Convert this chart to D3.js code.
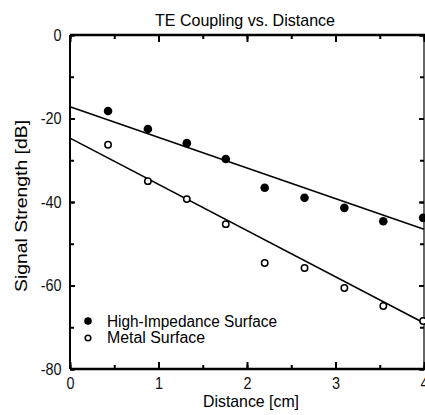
<!DOCTYPE html>
<html>
<head>
<meta charset="utf-8">
<script src="https://cdn.jsdelivr.net/npm/d3@7"></script>
<style>
  body { margin: 0; background: #fff; }
  svg { display: block; font-family: "Liberation Sans", Arial, sans-serif; }
  .tick text { font-size: 17px; fill: #111; }
</style>
</head>
<body>
<div id="chart"></div>
<script>
// measured points
var distance = [0.43, 0.88, 1.32, 1.76, 2.2, 2.65, 3.1, 3.54, 3.99];
var highImpedance = [-18.2, -22.5, -25.9, -29.7, -36.6, -39.0, -41.4, -44.6, -43.8];
var metalSurface = [-26.3, -35.0, -39.3, -45.3, -54.6, -55.8, -60.6, -64.9, -68.5];

// fitted lines (end points at 0 and 4 cm)
var fitX = [0, 4];
var highFit = [-17.2, -46.5];
var metalFit = [-24.7, -69.0];

var xTicks = [0, 1, 2, 3, 4];
var yTicks = [0, -20, -40, -60, -80];
var seriesNames = ["High-Impedance Surface", "Metal Surface"];

var margin = { top: 35, right: 1, bottom: 46, left: 70 };
var W = 425, H = 415;
var width = W - margin.left - margin.right,
    height = H - margin.top - margin.bottom;

var svg = d3.select("#chart").append("svg")
    .attr("width", W)
    .attr("height", H);

var g = svg.append("g")
    .attr("transform", "translate(" + margin.left + "," + margin.top + ")");

var x = d3.scaleLinear().domain([0, 4]).range([0, width]);
var y = d3.scaleLinear().domain([-80, 0]).range([height, 0]);

var minorX = d3.range(0, 4.01, 0.5);
var minorY = d3.range(-80, 0.01, 10);

function styleAxis(sel, strokeW) {
    sel.select(".domain").remove();
    sel.selectAll(".tick line").attr("stroke", "#000").attr("stroke-width", 2);
}

// minor ticks (inside)
g.append("g").call(d3.axisBottom(x).tickValues(minorX).tickSize(-4).tickFormat(""))
    .attr("transform", "translate(0," + height + ")").call(styleAxis);
g.append("g").call(d3.axisTop(x).tickValues(minorX).tickSize(-4).tickFormat(""))
    .call(styleAxis);
g.append("g").call(d3.axisLeft(y).tickValues(minorY).tickSize(-4).tickFormat(""))
    .call(styleAxis);
g.append("g").call(d3.axisRight(y).tickValues(minorY).tickSize(-4).tickFormat(""))
    .attr("transform", "translate(" + width + ",0)").call(styleAxis);

// major ticks + labels
var xAxis = g.append("g")
    .attr("transform", "translate(0," + height + ")")
    .call(d3.axisBottom(x).tickValues(xTicks).tickSizeInner(-7).tickSizeOuter(0).tickPadding(6).tickFormat(d3.format("d")));
xAxis.call(styleAxis);
xAxis.selectAll(".tick text").attr("transform", "scale(0.85,1)").attr("dy", "0.85em");

g.append("g").call(d3.axisTop(x).tickValues(xTicks).tickSize(-7).tickFormat("")).call(styleAxis);

var yAxis = g.append("g")
    .call(d3.axisLeft(y).tickValues(yTicks).tickSizeInner(-5).tickSizeOuter(0).tickPadding(9)
        .tickFormat(function(d) { return d === 0 ? "0" : "-" + Math.abs(d); }));
yAxis.call(styleAxis);
yAxis.selectAll(".tick text").attr("transform", "scale(0.85,1)").attr("dx", "-1px");

g.append("g").attr("transform", "translate(" + width + ",0)")
    .call(d3.axisRight(y).tickValues(yTicks).tickSize(-5).tickFormat("")).call(styleAxis);

// frame
g.append("line").attr("x1", 0).attr("x2", width + 1).attr("y1", 0).attr("y2", 0)
    .attr("stroke", "#000").attr("stroke-width", 2.5);
g.append("line").attr("x1", 0).attr("x2", width + 1).attr("y1", height).attr("y2", height)
    .attr("stroke", "#000").attr("stroke-width", 2.5);
g.append("line").attr("x1", 0).attr("x2", 0).attr("y1", 0).attr("y2", height)
    .attr("stroke", "#000").attr("stroke-width", 2);
g.append("line").attr("x1", width).attr("x2", width).attr("y1", 0).attr("y2", height)
    .attr("stroke", "#000").attr("stroke-width", 1.2);

// fit lines
var line = d3.line().x(function(d) { return x(d[0]); }).y(function(d) { return y(d[1]); });
[highFit, metalFit].forEach(function(f) {
    g.append("path")
        .datum(d3.zip(fitX, f))
        .attr("d", line)
        .attr("fill", "none")
        .attr("stroke", "#000")
        .attr("stroke-width", 1.6);
});

// points
g.selectAll(".high-pt")
    .data(d3.zip(distance, highImpedance))
    .enter().append("circle")
    .attr("class", "high-pt")
    .attr("cx", function(d) { return x(d[0]); })
    .attr("cy", function(d) { return y(d[1]); })
    .attr("r", 4.3)
    .attr("fill", "#000");

g.selectAll(".metal-pt")
    .data(d3.zip(distance, metalSurface))
    .enter().append("circle")
    .attr("class", "metal-pt")
    .attr("cx", function(d) { return x(d[0]); })
    .attr("cy", function(d) { return y(d[1]); })
    .attr("r", 3.2)
    .attr("fill", "#fff")
    .attr("stroke", "#000")
    .attr("stroke-width", 1.5);

// legend
var legend = svg.append("g").attr("transform", "translate(88,321)");
legend.append("circle").attr("cx", 0).attr("cy", 0).attr("r", 3.8).attr("fill", "#000");
legend.append("circle").attr("cx", 0).attr("cy", 17).attr("r", 2.8)
    .attr("fill", "#fff").attr("stroke", "#000").attr("stroke-width", 1.5);
legend.append("text").attr("x", 19).attr("y", 6).attr("font-size", 16)
    .attr("textLength", 170).attr("lengthAdjust", "spacingAndGlyphs")
    .text(seriesNames[0]);
legend.append("text").attr("x", 19).attr("y", 22).attr("font-size", 16)
    .attr("textLength", 98).attr("lengthAdjust", "spacingAndGlyphs")
    .text(seriesNames[1]);

// title and axis labels
svg.append("text").attr("x", 245).attr("y", 26).attr("text-anchor", "middle")
    .attr("font-size", 17).attr("textLength", 180).attr("lengthAdjust", "spacingAndGlyphs")
    .text("TE Coupling vs. Distance");

svg.append("text").attr("x", 251).attr("y", 407).attr("text-anchor", "middle")
    .attr("font-size", 17).attr("textLength", 96).attr("lengthAdjust", "spacingAndGlyphs")
    .text("Distance [cm]");

svg.append("text")
    .attr("transform", "translate(27,206) rotate(-90)")
    .attr("text-anchor", "middle")
    .attr("font-size", 16).attr("textLength", 172).attr("lengthAdjust", "spacingAndGlyphs")
    .text("Signal Strength [dB]");
</script>
</body>
</html>
